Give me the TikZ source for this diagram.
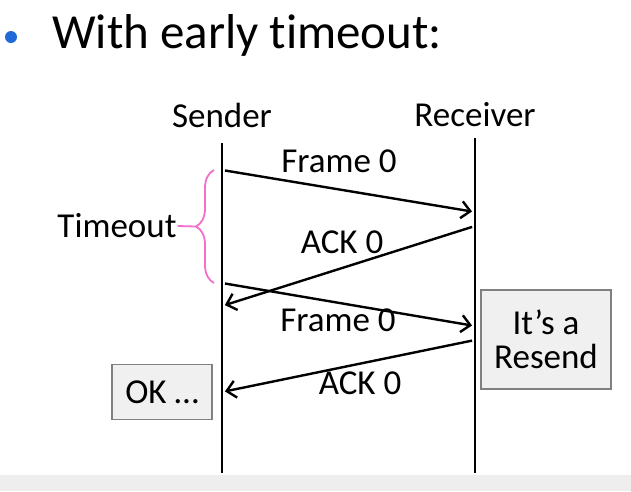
\documentclass[tikz,border=0pt]{standalone}
\usepackage{fontspec}
\setmainfont{Carlito}[Ligatures=NoCommon]
\usetikzlibrary{arrows.meta, positioning, decorations.pathreplacing}
\definecolor{bulletblue}{HTML}{1F6AD6}
\definecolor{bracepink}{HTML}{F26FCB}
\definecolor{boxgray}{HTML}{F0F0F0}
\definecolor{bandgray}{HTML}{EEEEEE}

\begin{document}
\begin{tikzpicture}[x=1pt, y=-1pt,
    lbl/.style={font=\fontsize{35}{34}\selectfont, inner sep=0pt},
    life/.style={line width=2pt},
    msg/.style={line width=2.4pt, -{Straight Barb[length=9pt, width=17pt, line width=2.4pt]},
                shorten >=3pt, shorten <=3pt},
    note/.style={draw=gray, line width=1.3pt, fill=boxgray, align=center,
                 font=\fontsize{35}{34}\selectfont},
]
    \useasboundingbox (0,0) rectangle (631,491);
    \fill[bandgray] (0,475) rectangle (631,491);

    \fill[bulletblue] (11,37) circle (6);
    \node[anchor=base west, inner sep=0pt, font=\fontsize{49}{50}\selectfont] (title) at (52,48) {With early timeout:};

    \node[lbl] (sender) at (222,115) {Sender};
    \node[lbl] (receiver) at (475,115) {Receiver};

    \coordinate (stop) at (222,143);
    \coordinate (sbot) at (222,473);
    \coordinate (rtop) at (475,138);
    \coordinate (rbot) at (475,473);
    \draw[life] (stop) -- (sbot);
    \draw[life] (rtop) -- (rbot);

    \coordinate (f1s) at (222,170);
    \coordinate (f1r) at (475,212);
    \coordinate (a1r) at (475,226);
    \coordinate (a1s) at (222,306);
    \coordinate (f2s) at (222,283);
    \coordinate (f2r) at (475,326);
    \coordinate (a2r) at (475,340);
    \coordinate (a2s) at (222,392);

    \draw[msg] (f1s) -- (f1r);
    \draw[msg] (a1r) -- (a1s);
    \draw[msg] (f2s) -- (f2r);
    \draw[msg] (a2r) -- (a2s);

    \node[lbl] (frame1) at (339,161) {Frame 0};
    \node[lbl] (ack1) at (342,242) {ACK 0};
    \node[lbl] (frame2) at (338,320) {Frame 0};
    \node[lbl] (ack2) at (360,383) {ACK 0};

    \coordinate (btop) at (214,170);
    \coordinate (bbot) at (214,283);
    \draw[bracepink, line width=1.8pt, decorate,
          decoration={brace, amplitude=18pt}] (bbot) -- (btop);
    \node[lbl] (timeout) at (117,226) {Timeout};
    \coordinate (btip) at (196,226.5);
    \draw[bracepink, line width=1.8pt] (timeout.east) ++(1,0) -- (btip);

    \node[note, minimum width=100, minimum height=55, inner sep=2pt] (ok) at (162,392) {OK \dots};
    \node[note, minimum width=130, minimum height=99, inner sep=2pt] (resend) at (546,339.5) {It’s a\\Resend};
\end{tikzpicture}
\end{document}
